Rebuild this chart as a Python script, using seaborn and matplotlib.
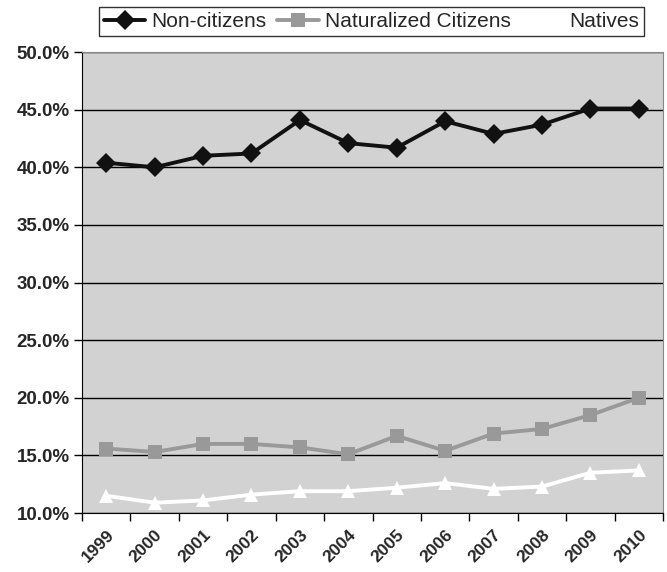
import numpy as np
import pandas as pd
import seaborn as sns
import matplotlib.pyplot as plt
from matplotlib.ticker import FuncFormatter

years = ['1999', '2000', '2001', '2002', '2003', '2004',
         '2005', '2006', '2007', '2008', '2009', '2010']
non_citizens = [40.4, 40.0, 41.0, 41.2, 44.1, 42.1, 41.7, 44.0, 42.9, 43.7, 45.1, 45.1]
naturalized = [15.6, 15.3, 16.0, 16.0, 15.7, 15.1, 16.7, 15.4, 16.9, 17.3, 18.5, 20.0]
natives = [11.5, 10.9, 11.1, 11.6, 11.9, 11.9, 12.2, 12.6, 12.1, 12.3, 13.5, 13.7]

series_names = ['Non-citizens', 'Naturalized Citizens', 'Natives']
colors = {'Non-citizens': '#111111', 'Naturalized Citizens': '#999999', 'Natives': '#ffffff'}
markers = {'Non-citizens': 'D', 'Naturalized Citizens': 's', 'Natives': '^'}

df = pd.DataFrame({'year': years * 3,
                   'pos': list(range(len(years))) * 3,
                   'value': non_citizens + naturalized + natives,
                   'series': [s for s in series_names for _ in years]})

sns.set_style("white")
plt.rcParams['font.family'] = ['Liberation Sans', 'DejaVu Sans']

fig = plt.figure(figsize=(6.67, 5.72), dpi=100)
ax = fig.add_axes([0.123, 0.103, 0.871, 0.806])
ax.set_facecolor('#d2d2d2')

sns.lineplot(data=df, x='pos', y='value', hue='series', style='series',
             palette=colors, markers=markers, dashes=False, linewidth=2.8,
             markersize=10, markeredgewidth=0, ax=ax, legend=False)

"Axes, ticks and grid"
ax.set_ylim(10, 50)
ax.set_yticks(np.arange(10, 51, 5))
ax.yaxis.set_major_formatter(FuncFormatter(lambda v, p: '{:.1f}%'.format(v)))
ax.set_xlim(-0.5, len(years) - 0.5)
ax.set_xticks(np.arange(-0.5, len(years), 1), minor=True)
ax.set_xticks(range(len(years)))
ax.set_xticklabels(years, rotation=45, ha='right', rotation_mode='anchor')
ax.tick_params(axis='x', which='major', length=0, pad=10)
ax.tick_params(axis='x', which='minor', length=6, width=1, color='black', direction='out', bottom=True)
ax.tick_params(axis='y', length=6, width=1, color='black', direction='out', left=True, pad=3)
for lab in ax.get_yticklabels():
    lab.set_fontweight('bold')
    lab.set_fontsize(13.5)
for lab in ax.get_xticklabels():
    lab.set_fontweight('bold')
    lab.set_fontsize(12.5)
ax.set_xlabel('')
ax.set_ylabel('')
ax.yaxis.grid(True, color='black', linewidth=1)
ax.set_axisbelow(True)
ax.spines['left'].set_color('black')
ax.spines['bottom'].set_color('black')
ax.spines['top'].set_color('#888888')
ax.spines['right'].set_color('#888888')

"Legend"
handles = [plt.Line2D([], [], color=colors[s], marker=markers[s], linewidth=2.8,
                      markersize=10, markeredgewidth=0) for s in series_names]
leg = fig.legend(handles, series_names, loc='center', bbox_to_anchor=(0.557, 0.962),
                 ncol=3, frameon=True, fancybox=False, edgecolor='black',
                 fontsize=15, handlelength=2.0, handletextpad=0.3,
                 columnspacing=0.5, borderpad=0.25, borderaxespad=0)
leg.get_frame().set_linewidth(1)

fig.savefig('out.png', dpi=100)
